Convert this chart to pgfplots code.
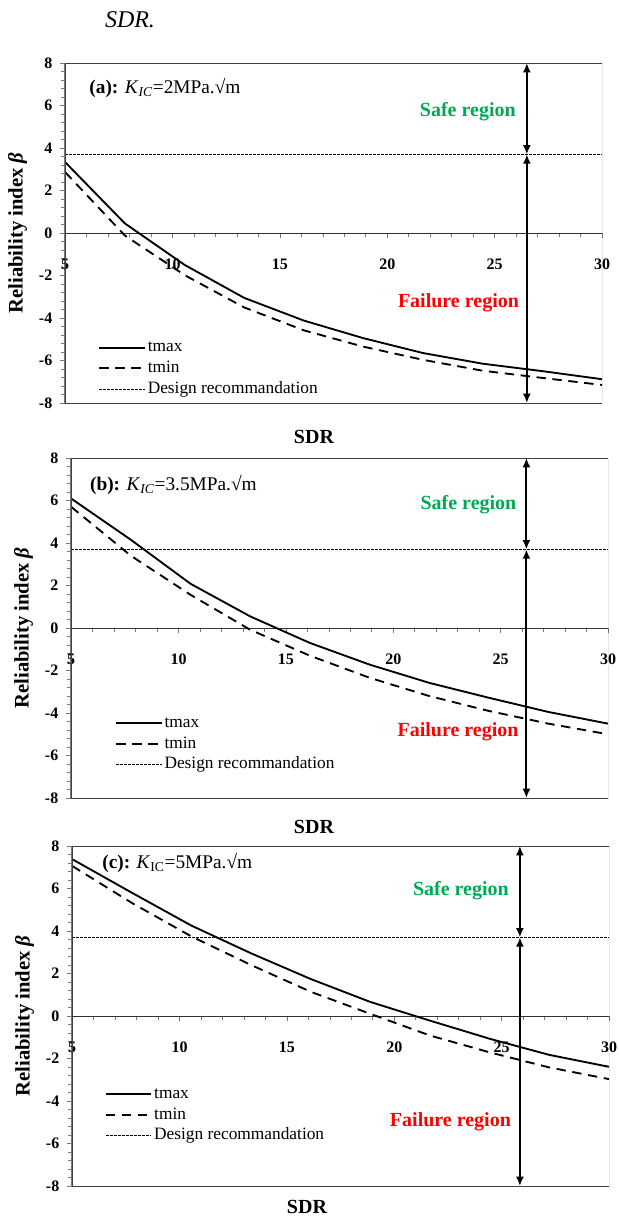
\documentclass[border=0pt]{standalone}
\usepackage{fontspec}
\setmainfont{Liberation Serif}
\usepackage{pgfplots}
\usepackage{pgfplotstable}
\pgfplotsset{compat=1.18}
\usetikzlibrary{arrows.meta}

\definecolor{safegreen}{RGB}{0,170,80}
\definecolor{axgray}{RGB}{120,120,120}

% SDR values at 10 equal steps from 5 to 30
\pgfplotstableread{
sdr   tmax   tmin
5.00   3.33   2.86
7.78   0.45  -0.12
10.56 -1.50  -1.98
13.33 -3.05  -3.50
16.11 -4.12  -4.58
18.89 -4.95  -5.35
21.67 -5.65  -5.97
24.44 -6.15  -6.48
27.22 -6.50  -6.82
30.00 -6.88  -7.15
}\dataA
\pgfplotstableread{
sdr   tmax   tmin
5.00   6.09   5.70
7.78   4.15   3.40
10.56  2.08   1.56
13.33  0.55  -0.08
16.11 -0.70  -1.30
18.89 -1.72  -2.34
21.67 -2.58  -3.20
24.44 -3.28  -3.90
27.22 -3.95  -4.50
30.00 -4.50  -5.00
}\dataB
\pgfplotstableread{
sdr   tmax   tmin
5.00   7.38   7.06
7.78   5.80   5.32
10.56  4.25   3.74
13.33  2.95   2.40
16.11  1.74   1.14
18.89  0.66   0.10
21.67 -0.22  -0.92
24.44 -1.07  -1.71
27.22 -1.83  -2.42
30.00 -2.39  -2.97
}\dataC

\tikzset{
  tmaxline/.style={black, line width=1.4pt},
  tminline/.style={black, line width=1.4pt, dash pattern=on 7pt off 5pt},
  designline/.style={black, line width=0.6pt, dash pattern=on 2pt off 1pt},
  arr/.style={black, line width=1.4pt, {Latex[length=7pt,width=6pt]}-{Latex[length=7pt,width=6pt]}},
  frame/.style={black!75, line width=0.7pt},
}

\pgfplotsset{
  relplot/.style={
    width=402.75pt, height=255pt, scale only axis,
    xmin=4.99, xmax=30, ymin=-8, ymax=8,
    axis x line*=middle, axis y line*=left,
    x axis line style={-, black!80, line width=0.6pt},
    y axis line style={-, axgray, line width=0.8pt},
    xtick={5,10,...,30}, ytick={-8,-6,...,8},
    minor x tick num=4, minor y tick num=4,
    tick align=outside,
    major tick length=4pt, minor tick length=3pt,
    tick style={axgray, line width=0.5pt},
    ticklabel style={font=\fontsize{12}{14}\selectfont\bfseries},
    xticklabel style={yshift=-12pt},
    yticklabel style={xshift=-2pt},
    /pgf/number format/assume math mode=true,
    ylabel={\textbf{Reliability index \textit{β}}},
    ylabel style={font=\fontsize{15.5}{17}\selectfont, yshift=2pt},
    legend cell align=left,
    legend image code/.code={\draw[##1] (0pt,0pt) -- (34pt,0pt);},
    legend style={draw=none, fill=none, anchor=north west, inner sep=0pt,
      row sep=0pt, font=\fontsize{13}{15}\selectfont,
      nodes={inner sep=1.5pt, text height=9.5pt, text depth=3pt}},
  },
}

\begin{document}
\begin{tikzpicture}
\useasboundingbox (0,0) rectangle (463.5pt,-915.75pt);
\node[font=\fontsize{18}{20}\selectfont\itshape] at (97.5pt,-15pt) {SDR.};

% (a)
\begin{axis}[relplot, at={(48.75pt,-302.25pt)}, anchor=south west,
  legend style={at={(rel axis cs:0.062,0.194)}}]
\addplot[tmaxline] table[x=sdr,y=tmax]{\dataA};
\addlegendentry{tmax}
\addplot[tminline] table[x=sdr,y=tmin]{\dataA};
\addlegendentry{tmin}
\addplot[designline] coordinates {(5,3.7) (30,3.7)};
\addlegendentry{Design recommandation}
\draw[arr] (axis cs:26.5,8) -- (axis cs:26.5,3.7);
\draw[arr] (axis cs:26.5,3.7) -- (axis cs:26.5,-8);
\node[anchor=east, text=safegreen, font=\fontsize{15}{17}\selectfont\bfseries] at (axis cs:26.2,5.7) {Safe region};
\node[anchor=east, text=red, font=\fontsize{15}{17}\selectfont\bfseries] at (axis cs:26.35,-3.3) {Failure region};
\node[anchor=west, inner sep=0pt, font=\fontsize{14.5}{16}\selectfont] at (rel axis cs:0.045,0.926) {\textbf{(a):} \textit{K}\textsubscript{\textit{IC}}=2MPa.√m};
\draw[frame] (rel axis cs:0,0) rectangle (rel axis cs:1,1);
\end{axis}
\node[font=\fontsize{15}{17}\selectfont\bfseries] at (235.5pt,-327.75pt) {SDR};

% (b)
\begin{axis}[relplot, at={(53.25pt,-598.5pt)}, anchor=south west,
  legend style={at={(rel axis cs:0.082,0.251)}}]
\addplot[tmaxline] table[x=sdr,y=tmax]{\dataB};
\addlegendentry{tmax}
\addplot[tminline] table[x=sdr,y=tmin]{\dataB};
\addlegendentry{tmin}
\addplot[designline] coordinates {(5,3.7) (30,3.7)};
\addlegendentry{Design recommandation}
\draw[arr] (axis cs:26.2,8) -- (axis cs:26.2,3.7);
\draw[arr] (axis cs:26.2,3.7) -- (axis cs:26.2,-8);
\node[anchor=east, text=safegreen, font=\fontsize{15}{17}\selectfont\bfseries] at (axis cs:25.95,5.8) {Safe region};
\node[anchor=east, text=red, font=\fontsize{15}{17}\selectfont\bfseries] at (axis cs:26.05,-4.9) {Failure region};
\node[anchor=west, inner sep=0pt, font=\fontsize{14.5}{16}\selectfont] at (rel axis cs:0.035,0.921) {\textbf{(b):} \textit{K}\textsubscript{\textit{IC}}=3.5MPa.√m};
\draw[frame] (rel axis cs:0,0) rectangle (rel axis cs:1,1);
\end{axis}
\node[font=\fontsize{15}{17}\selectfont\bfseries] at (235.5pt,-620.25pt) {SDR};

% (c)
\begin{axis}[relplot, at={(54pt,-889.5pt)}, anchor=south west,
  legend style={at={(rel axis cs:0.061,0.301)}}]
\addplot[tmaxline] table[x=sdr,y=tmax]{\dataC};
\addlegendentry{tmax}
\addplot[tminline] table[x=sdr,y=tmin]{\dataC};
\addlegendentry{tmin}
\addplot[designline] coordinates {(5,3.7) (30,3.7)};
\addlegendentry{Design recommandation}
\draw[arr] (axis cs:25.85,8) -- (axis cs:25.85,3.7);
\draw[arr] (axis cs:25.85,3.7) -- (axis cs:25.85,-8);
\node[anchor=east, text=safegreen, font=\fontsize{15}{17}\selectfont\bfseries] at (axis cs:25.55,5.9) {Safe region};
\node[anchor=east, text=red, font=\fontsize{15}{17}\selectfont\bfseries] at (axis cs:25.65,-4.97) {Failure region};
\node[anchor=west, inner sep=0pt, font=\fontsize{14.5}{16}\selectfont] at (rel axis cs:0.056,0.95) {\textbf{(c):} \textit{K}\textsubscript{IC}=5MPa.√m};
\draw[frame] (rel axis cs:0,0) rectangle (rel axis cs:1,1);
\end{axis}
\node[font=\fontsize{15}{17}\selectfont\bfseries] at (230.25pt,-905.5pt) {SDR};
\end{tikzpicture}
\end{document}
